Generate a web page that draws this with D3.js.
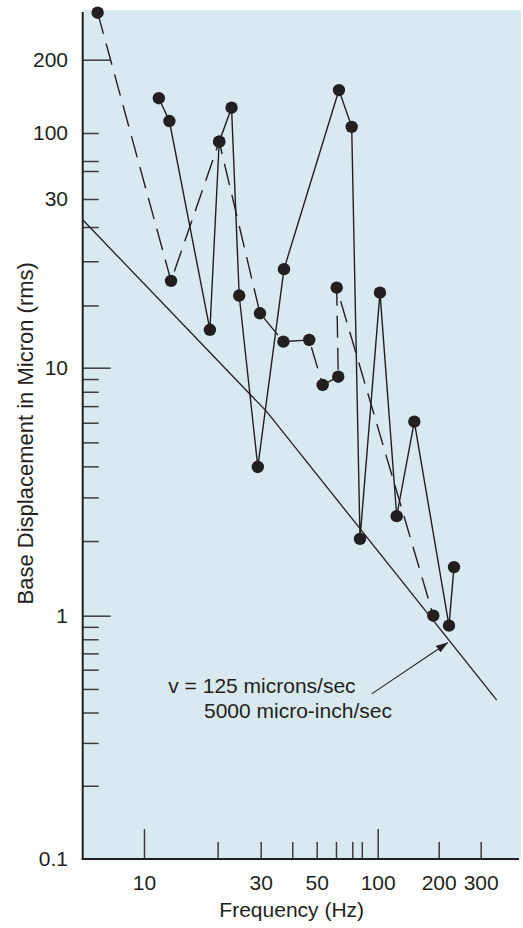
<!DOCTYPE html>
<html><head><meta charset="utf-8">
<script src="https://cdn.jsdelivr.net/npm/d3@7"></script>
<style>
body{margin:0;background:#fff;}
svg{display:block;font-family:"Liberation Sans",Arial,Helvetica,sans-serif;}
</style>
</head><body>
<svg id="chart" width="523" height="928"></svg>
<script>
// ---------- data ----------
const solidFreq = [11.5, 12.7, 18.6, 20.3, 22.8, 24.5, 29.2, 37.1, 61.7, 69.6, 78.0, 102.6, 124.1, 151.6, 220.9, 231.8];
const solidDisp = [139, 112, 12.8, 85.3, 127, 16.0, 3.98, 19.0, 150, 106, 2.04, 16.3, 2.52, 6.06, 0.91, 1.57];
const dashedFreq = [6.45, 12.9, 20.3, 29.8, 36.9, 46.7, 52.9, 61.3, 60.4, 188.1];
const dashedDisp = [312, 17.6, 85.3, 14.25, 11.85, 11.98, 8.52, 9.20, 16.84, 1.0];
const refFreq = [5.6, 31.7, 350];
const refDisp = [26.2, 6.65, 0.45];
const xTickMajor = [10, 100];
const xTickMinor = [20, 30, 40, 50, 60, 70, 80, 200, 300];
const xTickLabels = [10, 30, 50, 100, 200, 300];
const yTickMajor = [1, 10, 200];
const yTickMinor = [0.2, 0.3, 0.4, 0.5, 0.6, 0.7, 0.8, 0.9, 2, 3, 4, 5, 6, 7, 8, 9, 15, 20, 25, 30, 50, 60, 100];
const yTickLabels = [0.1, 1, 10, 30, 100, 200];
const annotationText = ["v = 125 microns/sec", "5000 micro-inch/sec"];
const annotationFreq = [12.57, 17.59];
const annotationDisp = [0.4796, 0.379];
const arrowFreq = [91.9, 218.8];
const arrowDisp = [0.477, 0.776];
const xTitle = "Frequency (Hz)";
const yTitle = "Base Displacement in Micron (rms)";

// ---------- scales (piecewise log, following the hand-drawn axes) ----------
const x = d3.scaleLog()
  .domain([5.6, 10, 30, 50, 70, 100, 200, 300, 442])
  .range([82.7, 144, 260.7, 316.7, 352.3, 377.7, 438.7, 480.7, 521]);
const y = d3.scaleLog()
  .domain([0.1, 1, 10, 30, 100, 200, 320])
  .range([859, 615.7, 367.7, 199, 133, 59.7, 10]);

const ink = "#231f20";
const tickInk = "#3d3d3d";
const svg = d3.select("#chart");
const x0 = x.range()[0], x1 = x.range()[x.range().length - 1];
const yBottom = y.range()[0], yTop = y.range()[y.range().length - 1];

// background
svg.append("rect").attr("x", x0).attr("y", yTop)
  .attr("width", x1 - x0).attr("height", yBottom - yTop)
  .attr("fill", "#d9e9f0");

// ---------- axes ----------
function styleAxis(g) {
  g.select(".domain").remove();
  g.selectAll(".tick line").attr("stroke", tickInk).attr("stroke-width", 1.5);
  g.selectAll("text").attr("fill", ink).attr("font-size", 21)
    .attr("font-family", '"Liberation Sans",Arial,Helvetica,sans-serif');
}
// x ticks pointing up into the plot
svg.append("g").attr("transform", `translate(0,${yBottom})`)
  .call(d3.axisTop(x).tickValues(xTickMajor).tickSize(30).tickFormat(""))
  .call(styleAxis);
svg.append("g").attr("transform", `translate(0,${yBottom})`)
  .call(d3.axisTop(x).tickValues(xTickMinor).tickSize(17).tickFormat(""))
  .call(styleAxis);
svg.append("g").attr("transform", `translate(0,${yBottom})`)
  .call(d3.axisBottom(x).tickValues(xTickLabels).tickSize(0).tickPadding(16).tickFormat(d => String(d)))
  .call(styleAxis);
// y ticks pointing right into the plot
svg.append("g").attr("transform", `translate(${x0},0)`)
  .call(d3.axisRight(y).tickValues(yTickMajor).tickSize(28).tickFormat(""))
  .call(styleAxis);
svg.append("g").attr("transform", `translate(${x0},0)`)
  .call(d3.axisRight(y).tickValues(yTickMinor).tickSize(16).tickFormat(""))
  .call(styleAxis);
svg.append("g").attr("transform", `translate(${x0},0)`)
  .call(d3.axisLeft(y).tickValues(yTickLabels).tickSize(0).tickPadding(14.7).tickFormat(d => String(d)))
  .call(styleAxis);

// axis lines
svg.append("line").attr("x1", x0).attr("x2", x0).attr("y1", yTop + 2).attr("y2", yBottom + 1)
  .attr("stroke", ink).attr("stroke-width", 2);
svg.append("line").attr("x1", x0 - 1).attr("x2", x1 - 2).attr("y1", yBottom).attr("y2", yBottom)
  .attr("stroke", ink).attr("stroke-width", 2);

// ---------- reference velocity line ----------
const ref = refFreq.map((f, i) => [f, refDisp[i]]);
const lineGen = d3.line().x(d => x(d[0])).y(d => y(d[1]));
svg.append("path").attr("d", lineGen(ref)).attr("fill", "none")
  .attr("stroke", ink).attr("stroke-width", 1.3);

// ---------- data series ----------
const solid = solidFreq.map((f, i) => [f, solidDisp[i]]);
const dashed = dashedFreq.map((f, i) => [f, dashedDisp[i]]);
svg.append("path").attr("d", lineGen(dashed)).attr("fill", "none")
  .attr("stroke", ink).attr("stroke-width", 1.4).attr("stroke-dasharray", "22,10");
svg.append("path").attr("d", lineGen(solid)).attr("fill", "none")
  .attr("stroke", ink).attr("stroke-width", 1.4);

svg.append("g").selectAll("circle").data(solid.concat(dashed)).join("circle")
  .attr("cx", d => x(d[0])).attr("cy", d => y(d[1])).attr("r", 6.2).attr("fill", ink);

// ---------- annotation ----------
const defs = svg.append("defs");
defs.append("marker").attr("id", "arrowHead").attr("viewBox", "0 0 12 8")
  .attr("refX", 12).attr("refY", 4).attr("markerWidth", 12).attr("markerHeight", 8)
  .attr("markerUnits", "userSpaceOnUse").attr("orient", "auto")
  .append("path").attr("d", "M0,0 L12,4 L0,8 Z").attr("fill", ink);
svg.append("line")
  .attr("x1", x(arrowFreq[0])).attr("y1", y(arrowDisp[0]))
  .attr("x2", x(arrowFreq[1])).attr("y2", y(arrowDisp[1]))
  .attr("stroke", ink).attr("stroke-width", 1.1).attr("marker-end", "url(#arrowHead)");
svg.append("g").selectAll("text").data(annotationText).join("text")
  .attr("x", (d, i) => x(annotationFreq[i])).attr("y", (d, i) => y(annotationDisp[i]))
  .attr("font-size", 21).attr("fill", ink).text(d => d);

// ---------- titles ----------
svg.append("text").attr("x", 291.7).attr("y", 916.5).attr("text-anchor", "middle")
  .attr("font-size", 21).attr("fill", ink).text(xTitle);
svg.append("text").attr("transform", "translate(33.3,433.3) rotate(-90)")
  .attr("text-anchor", "middle").attr("font-size", 22).attr("fill", ink).text(yTitle);
</script>
</body></html>
